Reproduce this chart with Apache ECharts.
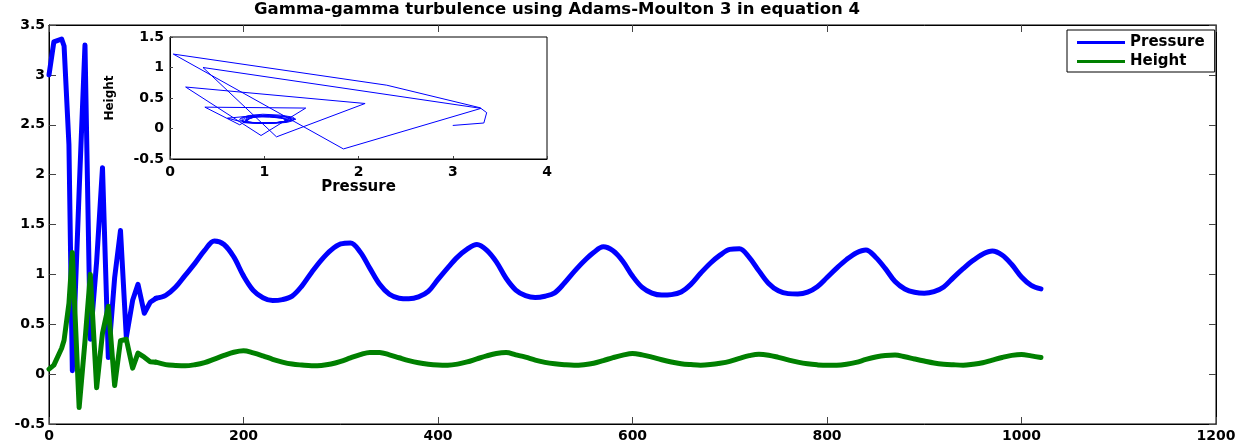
<!DOCTYPE html>
<html><head><meta charset="utf-8">
<script src="https://cdn.jsdelivr.net/npm/echarts@6/dist/echarts.min.js"></script>
<style>html,body{margin:0;padding:0;background:#fff}#c{width:1250px;height:447px}</style>
</head><body><div id="c"></div>
<script>
// ---- data ----
const chartTitle = 'Gamma-gamma turbulence using Adams-Moulton 3 in equation 4';
const seriesNames = ['Pressure', 'Height'];
const timeSteps = [
  0, 5, 13, 15.5, 20.5, 24, 31, 37, 42.5, 49, 55, 61, 67.5, 73.5, 79.5, 86, 91.5, 98, 104, 110,
  120, 130, 140, 150, 160, 170, 180, 190, 200, 210, 220, 230, 240, 250, 260, 270, 280, 290, 300,
  310, 320, 330, 340, 350, 360, 370, 380, 390, 400, 410, 420, 430, 440, 450, 460, 470, 480, 490,
  500, 510, 520, 530, 540, 550, 560, 570, 580, 590, 600, 610, 620, 630, 640, 650, 660, 670, 680,
  690, 700, 710, 720, 730, 740, 750, 760, 770, 780, 790, 800, 810, 820, 830, 840, 850, 860, 870,
  880, 890, 900, 910, 920, 930, 940, 950, 960, 970, 980, 990, 1000, 1010, 1020
];
const pressure = [
  3.0, 3.33, 3.36, 3.29, 2.3, 0.035, 1.84, 3.3, 0.35, 1.13, 2.07, 0.166, 0.966, 1.44, 0.37, 0.74, 0.9, 0.61, 0.72, 0.76,
  0.79, 0.87, 0.99, 1.11, 1.24, 1.335, 1.30, 1.175, 0.985, 0.84, 0.766, 0.738, 0.747, 0.782, 0.883, 1.019, 1.143, 1.243, 1.305,
  1.315, 1.225, 1.06, 0.90, 0.80, 0.761, 0.755, 0.774, 0.829, 0.95, 1.066, 1.173, 1.253, 1.30, 1.244, 1.126, 0.961, 0.843, 0.787,
  0.768, 0.781, 0.815, 0.913, 1.027, 1.131, 1.219, 1.276, 1.236, 1.132, 0.983, 0.869, 0.812, 0.792, 0.797, 0.824, 0.90, 1.011, 1.112,
  1.193, 1.251, 1.258, 1.171, 1.035, 0.908, 0.835, 0.807, 0.804, 0.822, 0.876, 0.969, 1.063, 1.148, 1.215, 1.245, 1.172, 1.058, 0.928,
  0.854, 0.821, 0.811, 0.827, 0.874, 0.968, 1.057, 1.138, 1.202, 1.234, 1.194, 1.099, 0.974, 0.89, 0.855
];
const height = [
  0.05, 0.09, 0.26, 0.34, 0.71, 1.22, -0.335, 0.33, 1.0, -0.137, 0.41, 0.68, -0.115, 0.335, 0.35, 0.06, 0.21, 0.17, 0.125, 0.12,
  0.095, 0.087, 0.083, 0.094, 0.115, 0.151, 0.187, 0.219, 0.234, 0.213, 0.183, 0.149, 0.121, 0.101, 0.091, 0.084, 0.087, 0.101, 0.128,
  0.163, 0.196, 0.218, 0.217, 0.193, 0.164, 0.136, 0.114, 0.1, 0.092, 0.09, 0.1, 0.122, 0.153, 0.183, 0.207, 0.216, 0.193, 0.17,
  0.141, 0.118, 0.103, 0.094, 0.089, 0.095, 0.109, 0.136, 0.165, 0.19, 0.207, 0.193, 0.17, 0.144, 0.122, 0.105, 0.096, 0.09, 0.096,
  0.109, 0.128, 0.158, 0.185, 0.2, 0.19, 0.168, 0.143, 0.12, 0.103, 0.093, 0.088, 0.089, 0.099, 0.118, 0.147, 0.171, 0.187, 0.191,
  0.174, 0.152, 0.131, 0.112, 0.1, 0.094, 0.09, 0.099, 0.114, 0.141, 0.167, 0.188, 0.197, 0.183, 0.166
];
const transientEnd = 19; // index where the transient ends and the smooth oscillation starts
const mainXTicks = [0, 200, 400, 600, 800, 1000, 1200];
const mainYTicks = [-0.5, 0, 0.5, 1, 1.5, 2, 2.5, 3, 3.5];
const insetXTicks = [0, 1, 2, 3, 4];
const insetYTicks = [-0.5, 0, 0.5, 1, 1.5];
const insetXName = 'Pressure';
const insetYName = 'Height';

// ---- chart ----
const FONT = 'DejaVu Sans';
const seriesColors = ['#0000ff', '#008000'];
const rangeOf = t => ({ min: t[0], max: t[t.length - 1], interval: t[1] - t[0] });

const labelStyle = { fontFamily: FONT, fontWeight: 700, fontSize: 14, color: '#000', formatter: v => String(v) };
function mkAxis(ticks, extra) {
  return Object.assign({
    type: 'value', ...rangeOf(ticks),
    axisLine: { show: true, onZero: false, lineStyle: { color: '#000', width: 1 } },
    axisTick: { show: true, inside: true, length: 7, lineStyle: { color: '#444', width: 1 } },
    splitLine: { show: false },
    axisLabel: Object.assign({}, labelStyle)
  }, extra);
}

const chart = echarts.init(document.getElementById('c'), null, { renderer: 'canvas' });
const pairs = (arr, a, b) => timeSteps.slice(a, b).map((t, i) => [t, arr[a + i]]);
const phaseData = timeSteps.map((t, i) => [pressure[i], height[i]]);

function mainSeries(k, arr) {
  const base = { name: seriesNames[k], type: 'line', xAxisIndex: 0, yAxisIndex: 0, symbol: 'none',
    color: seriesColors[k], lineStyle: { width: 5, color: seriesColors[k], join: 'round', cap: 'round' }, z: 3 };
  return [
    Object.assign({}, base, { data: pairs(arr, 0, transientEnd + 1) }),
    Object.assign({}, base, { data: pairs(arr, transientEnd, timeSteps.length), smooth: 0.35 })
  ];
}

chart.setOption({
  animation: false,
  backgroundColor: '#fff',
  graphic: [{
    type: 'text', x: 557, y: 10, z: 10,
    style: { text: chartTitle, font: 'bold 16.5px "' + FONT + '"', fill: '#000', textAlign: 'center', textVerticalAlign: 'middle' }
  }],
  grid: [
    { left: 49, top: 25, width: 1167, height: 399, show: true, borderColor: '#000', borderWidth: 1, backgroundColor: 'transparent' },
    { left: 170, top: 37, width: 377, height: 122, show: true, backgroundColor: '#fff', borderColor: '#000', borderWidth: 1, z: 5 }
  ],
  xAxis: [
    mkAxis(mainXTicks, { gridIndex: 0, position: 'bottom', axisLabel: Object.assign({}, labelStyle, { margin: 5 }) }),
    mkAxis(mainXTicks, { gridIndex: 0, position: 'top', axisLabel: { show: false } }),
    mkAxis(insetXTicks, { gridIndex: 1, position: 'bottom', z: 6,
      axisTick: { show: true, inside: true, length: 3, lineStyle: { color: '#444' } },
      axisLabel: Object.assign({}, labelStyle, { margin: 6 }),
      name: insetXName, nameLocation: 'middle', nameGap: 21,
      nameTextStyle: { fontFamily: FONT, fontWeight: 700, fontSize: 15, color: '#000' } })
  ],
  yAxis: [
    mkAxis(mainYTicks, { gridIndex: 0, position: 'left', axisLabel: Object.assign({}, labelStyle, { margin: 4 }) }),
    mkAxis(mainYTicks, { gridIndex: 0, position: 'right', axisLabel: { show: false } }),
    mkAxis(insetYTicks, { gridIndex: 1, position: 'left', z: 6,
      axisTick: { show: true, inside: true, length: 3, lineStyle: { color: '#444' } },
      axisLabel: Object.assign({}, labelStyle, { margin: 6 }),
      name: insetYName, nameLocation: 'middle', nameGap: 54, nameRotate: 90,
      nameTextStyle: { fontFamily: FONT, fontWeight: 700, fontSize: 12, color: '#000' } })
  ],
  legend: {
    data: seriesNames.map(n => ({ name: n, icon: 'rect' })), orient: 'vertical', left: 1067, top: 30,
    padding: [5, 10, 3, 10], itemWidth: 48, itemHeight: 3, itemGap: 4,
    borderColor: '#000', borderWidth: 1, backgroundColor: '#fff', borderRadius: 0,
    textStyle: { fontFamily: FONT, fontWeight: 700, fontSize: 15, color: '#000' }
  },
  series: [
    ...mainSeries(0, pressure),
    ...mainSeries(1, height),
    { name: 'phase', type: 'line', xAxisIndex: 2, yAxisIndex: 2, data: phaseData,
      symbol: 'none', color: seriesColors[0], lineStyle: { width: 1, color: seriesColors[0] }, z: 7 }
  ]
});
</script>
</body></html>
